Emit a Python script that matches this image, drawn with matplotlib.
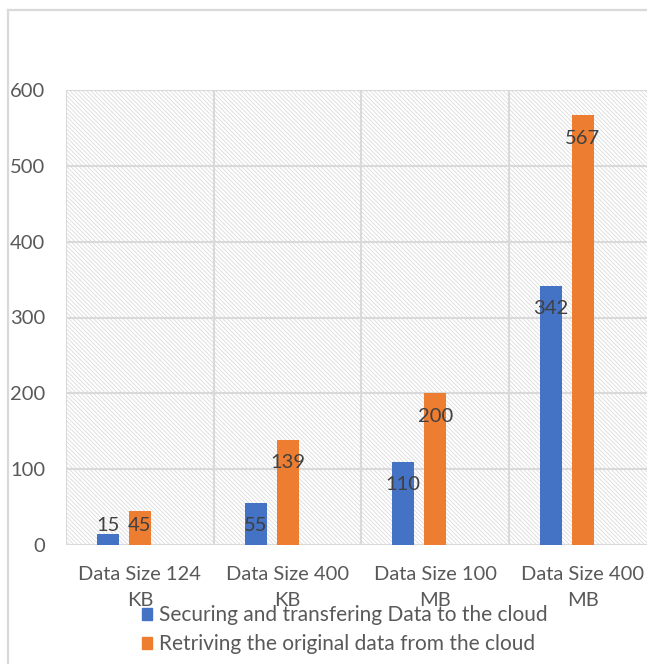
import matplotlib
matplotlib.use("Agg")
import matplotlib.pyplot as plt
from matplotlib.patches import Rectangle
from matplotlib.lines import Line2D

# Data
categories = ["Data Size 124\nKB", "Data Size 400\nKB", "Data Size 100\nMB", "Data Size 400\nMB"]
securing = [15, 55, 110, 342]
retrieving = [45, 139, 200, 567]
series_names = ["Securing and transfering Data to the cloud",
                "Retriving the original data from the cloud"]
yticks = [0, 100, 200, 300, 400, 500, 600]

BLUE = "#4472C4"
ORANGE = "#ED7D31"
GRID = "#D9D9D9"
HATCH = "#DCDCDC"
AXTXT = "#595959"
LBLTXT = "#404040"

plt.rcParams["font.family"] = ["Lato", "DejaVu Sans"]
plt.rcParams["hatch.color"] = HATCH
plt.rcParams["hatch.linewidth"] = 0.6
FS = 14.5

W, H = 647, 664
fig = plt.figure(figsize=(W / 100, H / 100), dpi=100)
fig.patch.set_facecolor("white")

# plot area in pixels
left_px, right_px, top_px, bottom_px = 66, 647, 90, 545
cat_w_px = 147.7
ax = fig.add_axes([left_px / W, 1 - bottom_px / H,
                   (right_px - left_px) / W, (bottom_px - top_px) / H])

xmax = (right_px - left_px) / cat_w_px
ax.set_xlim(0, xmax)
ax.set_ylim(0, 600)

# hatched background
ax.set_facecolor("white")
bg = Rectangle((0, 0), 1, 1, transform=ax.transAxes, facecolor="white",
               edgecolor=HATCH, hatch="\\" * 8, linewidth=0, zorder=0)
ax.add_patch(bg)

# gridlines
for y in yticks:
    ax.axhline(y, color=GRID, lw=1.5, zorder=1)
for i in range(len(categories) + 1):
    ax.axvline(i, color=GRID, lw=1.5, zorder=1)

for s in ax.spines.values():
    s.set_visible(False)

centers = [i + 0.5 for i in range(len(categories))]
bw = 22 / cat_w_px
off = 32 / cat_w_px

bx = [c - off for c in centers]
ox = list(centers)
ax.bar(bx, securing, width=bw, color=BLUE, zorder=3)
ax.bar(ox, retrieving, width=bw, color=ORANGE, zorder=3)

# value labels inside the top of each bar
drop = 23 * 600 / (bottom_px - top_px)
ymin_lbl = 26
for xs, vals in ((bx, securing), (ox, retrieving)):
    for x, v in zip(xs, vals):
        ax.text(x, max(v - drop, ymin_lbl), str(v), ha="center", va="center",
                fontsize=FS, color=LBLTXT, zorder=4)

ax.set_yticks(yticks)
ax.set_yticklabels([str(t) for t in yticks])
ax.set_xticks(centers)
ax.set_xticklabels(categories, linespacing=1.62)
ax.tick_params(axis="y", length=0, pad=15, labelsize=FS, labelcolor=AXTXT)
ax.tick_params(axis="x", length=0, pad=15, labelsize=FS, labelcolor=AXTXT)

# chart border
fig.add_artist(Line2D([7.5 / W, 7.5 / W], [0, 1 - 9.5 / H], color=GRID, lw=1.6,
                      transform=fig.transFigure))
fig.add_artist(Line2D([7.5 / W, 1], [1 - 9.5 / H, 1 - 9.5 / H], color=GRID, lw=1.6,
                      transform=fig.transFigure))

# legend
handles = [Rectangle((0, 0), 1, 1, color=BLUE), Rectangle((0, 0), 1, 1, color=ORANGE)]
fig.legend(handles, series_names, loc="upper left",
           bbox_to_anchor=(142 / W, 1 - 605 / H), frameon=False,
           fontsize=15, labelcolor=AXTXT, handlelength=0.5, handleheight=0.5,
           handletextpad=0.3, labelspacing=0.45, borderpad=0, borderaxespad=0)

fig.savefig("out.png", dpi=100, facecolor="white")
